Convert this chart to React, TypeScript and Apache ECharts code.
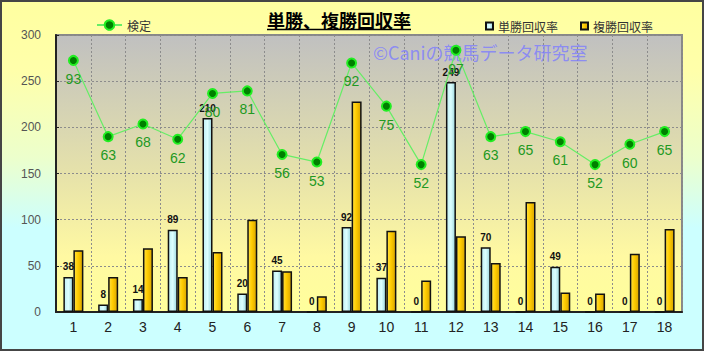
import React, { useEffect, useRef } from "react";
import * as echarts from "echarts";

const categories = ["1", "2", "3", "4", "5", "6", "7", "8", "9", "10", "11", "12", "13", "14", "15", "16", "17", "18"];
const winReturn = [38, 8, 14, 89, 210, 20, 45, 0, 92, 37, 0, 249, 70, 0, 49, 0, 0, 0];
const placeReturn = [67, 38, 69, 38, 65, 100, 44, 17, 228, 88, 34, 82, 53, 119, 21, 20, 63, 90];
const kentei = [93, 63, 68, 62, 80, 81, 56, 53, 92, 75, 52, 97, 63, 65, 61, 52, 60, 65];
const seriesNames = ["検定", "単勝回収率", "複勝回収率"];
const titleText = "単勝、複勝回収率";
const watermarkText = "©Caniの競馬データ研究室";

const LATIN = "'Liberation Sans', Arial, sans-serif";
const CJK = "'Noto Sans CJK JP', sans-serif";

export default function App() {
  const ref = useRef<HTMLDivElement>(null);
  useEffect(() => {
    if (!ref.current) return;
    const chart = echarts.init(ref.current, undefined, { renderer: "svg" });
    const G = echarts.graphic.LinearGradient;
    chart.setOption({
      animation: false,
      textStyle: { fontFamily: LATIN },
      backgroundColor: new G(0, 0, 0, 1, [
        { offset: 0, color: "#ffffa0" },
        { offset: 0.2, color: "#ffffaa" },
        { offset: 0.45, color: "#ecffcc" },
        { offset: 0.65, color: "#ccffff" },
        { offset: 1, color: "#ccffff" },
      ]),
      grid: {
        left: 56,
        right: 22,
        top: 35,
        bottom: 39,
        show: true,
        borderColor: "#888",
        borderWidth: 2,
        backgroundColor: new G(0, 0, 0, 1, [
          { offset: 0, color: "#c0c0c0" },
          { offset: 0.5, color: "#e6e2aa" },
          { offset: 0.8, color: "#fff9a2" },
          { offset: 1, color: "#ffff9c" },
        ]),
      },
      legend: [
        {
          data: [seriesNames[0]],
          left: 91,
          top: 14,
          itemWidth: 25,
          itemHeight: 12,
          textStyle: { fontSize: 12, color: "#333", fontFamily: CJK },
        },
        {
          data: [
            { name: seriesNames[1], icon: "rect" },
            { name: seriesNames[2], icon: "rect" },
          ],
          left: 480,
          top: 15,
          itemWidth: 7,
          itemHeight: 7,
          itemGap: 22,
          textStyle: { fontSize: 12, color: "#333", fontFamily: CJK },
        },
      ],
      xAxis: {
        type: "category",
        data: categories,
        boundaryGap: true,
        axisLine: { lineStyle: { color: "#222", width: 2 } },
        axisTick: { show: false },
        axisLabel: { fontSize: 14, color: "#222", margin: 8 },
        splitLine: { show: true, lineStyle: { color: "#8c8c8c", type: [2, 2], width: 1 } },
      },
      yAxis: [
        {
          type: "value",
          min: 0,
          max: 300,
          interval: 50,
          axisLine: { show: true, lineStyle: { color: "#222", width: 2 } },
          axisTick: { show: true, inside: true, length: 3, lineStyle: { color: "#222" } },
          axisLabel: { fontSize: 12, color: "#555", margin: 15 },
          splitLine: { show: true, lineStyle: { color: "#8c8c8c", type: [2, 2], width: 1 } },
        },
        { type: "value", min: -6, max: 103, show: false, splitLine: { show: false } },
      ],
      graphic: [
        {
          type: "text",
          z: 1,
          left: 373,
          top: 43,
          style: {
            text: watermarkText,
            fontSize: 18,
            fontFamily: CJK,
            fill: "rgba(125,125,255,0.8)",
          },
        },
        {
          type: "text",
          z: 10,
          x: 339,
          y: 20,
          style: {
            text: titleText,
            fontSize: 18,
            fontWeight: "bold",
            fontFamily: CJK,
            fill: "#000",
            align: "center",
            verticalAlign: "middle",
          },
        },
        {
          type: "line",
          z: 10,
          shape: { x1: 267, y1: 29.5, x2: 411, y2: 29.5 },
          style: { stroke: "#000", lineWidth: 1.5 },
        },
        {
          type: "rect",
          z: 20,
          shape: { x: 1, y: 1, width: 702, height: 349 },
          style: { fill: "none", stroke: "#454545", lineWidth: 2 },
        },
      ],
      series: [
        {
          name: seriesNames[1],
          type: "bar",
          data: winReturn,
          barWidth: 10,
          barGap: "0%",
          z: 2,
          itemStyle: {
            color: new G(0, 0, 1, 0, [
              { offset: 0, color: "#bfeef4" },
              { offset: 0.5, color: "#dcffff" },
              { offset: 1, color: "#9cd6de" },
            ]),
            borderColor: "#111",
            borderWidth: 1.5,
          },
          label: {
            show: true,
            position: "top",
            distance: 5,
            fontSize: 10,
            fontWeight: "bold",
            color: "#111",
          },
        },
        {
          name: seriesNames[2],
          type: "bar",
          data: placeReturn,
          barWidth: 10,
          barGap: "0%",
          z: 2,
          itemStyle: {
            color: new G(0, 0, 1, 0, [
              { offset: 0, color: "#ffe040" },
              { offset: 0.45, color: "#ffcc00" },
              { offset: 1, color: "#d8a400" },
            ]),
            borderColor: "#111",
            borderWidth: 1.5,
          },
        },
        {
          name: seriesNames[0],
          type: "line",
          yAxisIndex: 1,
          data: kentei,
          z: 3,
          symbol: "circle",
          symbolSize: 9,
          itemStyle: { color: "#008000", borderColor: "#22ee22", borderWidth: 2 },
          lineStyle: { color: "#66ee66", width: 1.2 },
          label: {
            show: true,
            position: "bottom",
            distance: 6,
            fontSize: 14,
            color: "#229922",
          },
        },
      ],
    });
    return () => chart.dispose();
  }, []);
  return (
    <div
      ref={ref}
      style={{ position: "fixed", left: 0, top: 0, width: 704, height: 351 }}
    />
  );
}
